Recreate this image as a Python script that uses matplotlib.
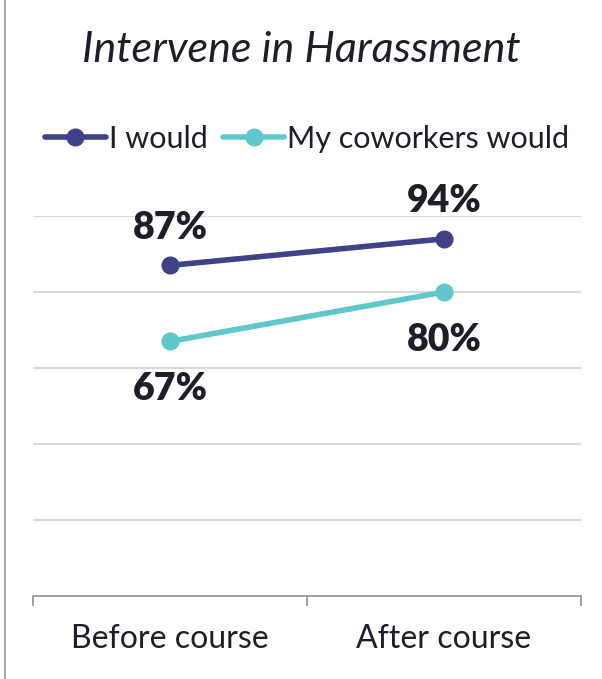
import matplotlib.pyplot as plt
from matplotlib.lines import Line2D

categories = ["Before course", "After course"]
i_would = [87, 94]
coworkers = [67, 80]
series_names = ["I would", "My coworkers would"]

navy = "#3e4286"
teal = "#5ec8ca"
text_col = "#1e1e2a"
grid_col = "#d9d9d9"

plt.rcParams['font.family'] = ['Lato', 'DejaVu Sans']

W, H = 602, 679
fig = plt.figure(figsize=(W / 100, H / 100), dpi=100)
ax = fig.add_axes([33 / W, (H - 596) / H, (581 - 33) / W, (596 - 216) / H])

x = list(range(len(categories)))
ax.plot(x, i_would, color=navy, lw=4, marker='o', ms=12, label=series_names[0],
        solid_capstyle='round', zorder=3)
ax.plot(x, coworkers, color=teal, lw=4, marker='o', ms=12, label=series_names[1],
        solid_capstyle='round', zorder=3)

# value labels: top series above, bottom series below
for xi, v in zip(x, i_would):
    ax.annotate(f"{v}%", (xi, v), xytext=(0, 15), textcoords='offset points',
                ha='center', va='bottom', fontsize=27, fontweight='heavy', color=text_col)
for xi, v in zip(x, coworkers):
    ax.annotate(f"{v}%", (xi, v), xytext=(0, -22), textcoords='offset points',
                ha='center', va='top', fontsize=27, fontweight='heavy', color=text_col)

ax.set_xlim(-0.5, 1.5)
ax.set_ylim(0, 100)
ax.set_yticks(range(20, 101, 20))
ax.yaxis.grid(True, color=grid_col, lw=1.5)
ax.tick_params(axis='y', left=False, labelleft=False)
ax.set_axisbelow(True)

ax.set_xticks(x)
ax.set_xticklabels(categories, fontsize=23, color=text_col)
ax.tick_params(axis='x', length=0, pad=20)
ax.set_xticks([-0.5, 0.5, 1.5], minor=True)
ax.tick_params(axis='x', which='minor', length=7, width=1.3, color='#9a9a9a')

for s in ['top', 'right', 'left']:
    ax.spines[s].set_visible(False)
ax.spines['bottom'].set_color('#9a9a9a')
ax.spines['bottom'].set_linewidth(1.3)

fig.text(0.5, (H - 50) / H, "Intervene in Harassment", ha='center', va='center',
         fontsize=31, style='italic', color=text_col)

fig.legend(loc='center', bbox_to_anchor=(0.51, (H - 139) / H), ncol=2, frameon=False,
           fontsize=22, handlelength=2.0, handletextpad=0.1, columnspacing=0.5,
           labelcolor=text_col)

# thin gray border on left side
fig.add_artist(Line2D([4.5 / W, 4.5 / W], [0, 1], color='#a8a8b0', lw=1.5))

fig.savefig("out.png", dpi=100)
